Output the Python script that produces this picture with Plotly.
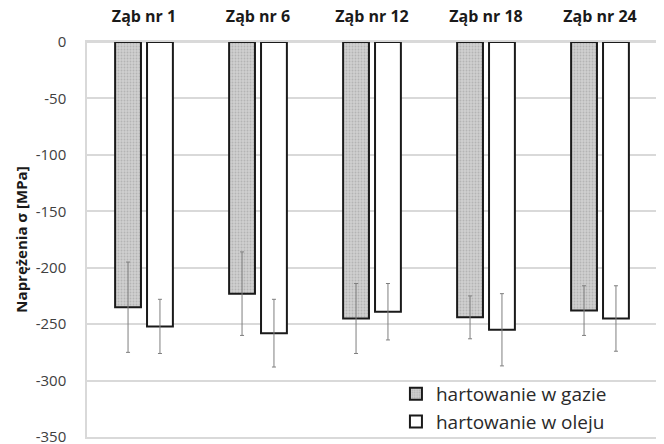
import plotly.graph_objects as go

categories = ["Ząb nr 1", "Ząb nr 6", "Ząb nr 12", "Ząb nr 18", "Ząb nr 24"]
gas_values = [-235, -223, -245, -244, -238]
gas_errors = [40, 37, 31, 19, 22]
oil_values = [-252, -258, -239, -255, -245]
oil_errors = [24, 30, 25, 32, 29]
y_ticks = [0, -50, -100, -150, -200, -250, -300, -350]
y_tick_labels = ["0", "-50", "-100", "-150", "-200", "-250", "-300", "-350"]

font_family = "'Open Sans', Lato, sans-serif"

fig = go.Figure()
fig.add_trace(go.Bar(
    x=categories, y=gas_values, name="hartowanie w gazie",
    marker=dict(color="#c4c4c4", line=dict(color="#1a1a1a", width=2),
                pattern=dict(shape=".", fgcolor="#9a9a9a", bgcolor="#cfcfcf", size=3, solidity=0.3)),
    error_y=dict(type="data", array=gas_errors, color="#7f7f7f", thickness=1, width=2),
))
fig.add_trace(go.Bar(
    x=categories, y=oil_values, name="hartowanie w oleju",
    marker=dict(color="#ffffff", line=dict(color="#1a1a1a", width=2)),
    error_y=dict(type="data", array=oil_errors, color="#7f7f7f", thickness=1, width=2),
))

# The page body has an 8px default margin, so the figure is sized 656x436
# and the margins are reduced by 8px on the left/top to keep the plot area in place.
fig.update_layout(
    width=656, height=436,
    margin=dict(l=79, r=7, t=34, b=7, autoexpand=False),
    paper_bgcolor="white", plot_bgcolor="white",
    barmode="group", bargap=0.44, bargroupgap=0.19,
    font=dict(family=font_family, color="#404040", size=13),
    showlegend=True,
    legend=dict(x=0.542, y=0.157, xanchor="left", yanchor="top",
                bgcolor="rgba(255,255,255,0)", font=dict(size=19, color="#2a2a2a"),
                tracegroupgap=0, itemwidth=30),
)
fig.update_xaxes(
    side="top", showgrid=False, showline=True, mirror=True,
    linecolor="#d9d9d9", linewidth=1.5, ticks="", automargin=False,
    ticklabeloverflow="allow",
    tickfont=dict(size=16, color="#1a1a1a", family=font_family, weight="bold"),
    ticklabelstandoff=12,
)
fig.update_yaxes(
    range=[-350, 0], tickvals=y_ticks, ticktext=y_tick_labels, automargin=False,
    ticklabeloverflow="allow",
    showgrid=True, gridcolor="#d9d9d9", gridwidth=1.5,
    zeroline=True, zerolinecolor="#d9d9d9", zerolinewidth=1.5,
    showline=True, linecolor="#d9d9d9", linewidth=1.5,
    tickfont=dict(size=15, color="#404040"), ticklabelstandoff=16,
    title=dict(text="Naprężenia σ [MPa]", font=dict(size=15, color="#1a1a1a", weight="bold"), standoff=4),
)

fig.write_html("out.html", config={"displayModeBar": False})
